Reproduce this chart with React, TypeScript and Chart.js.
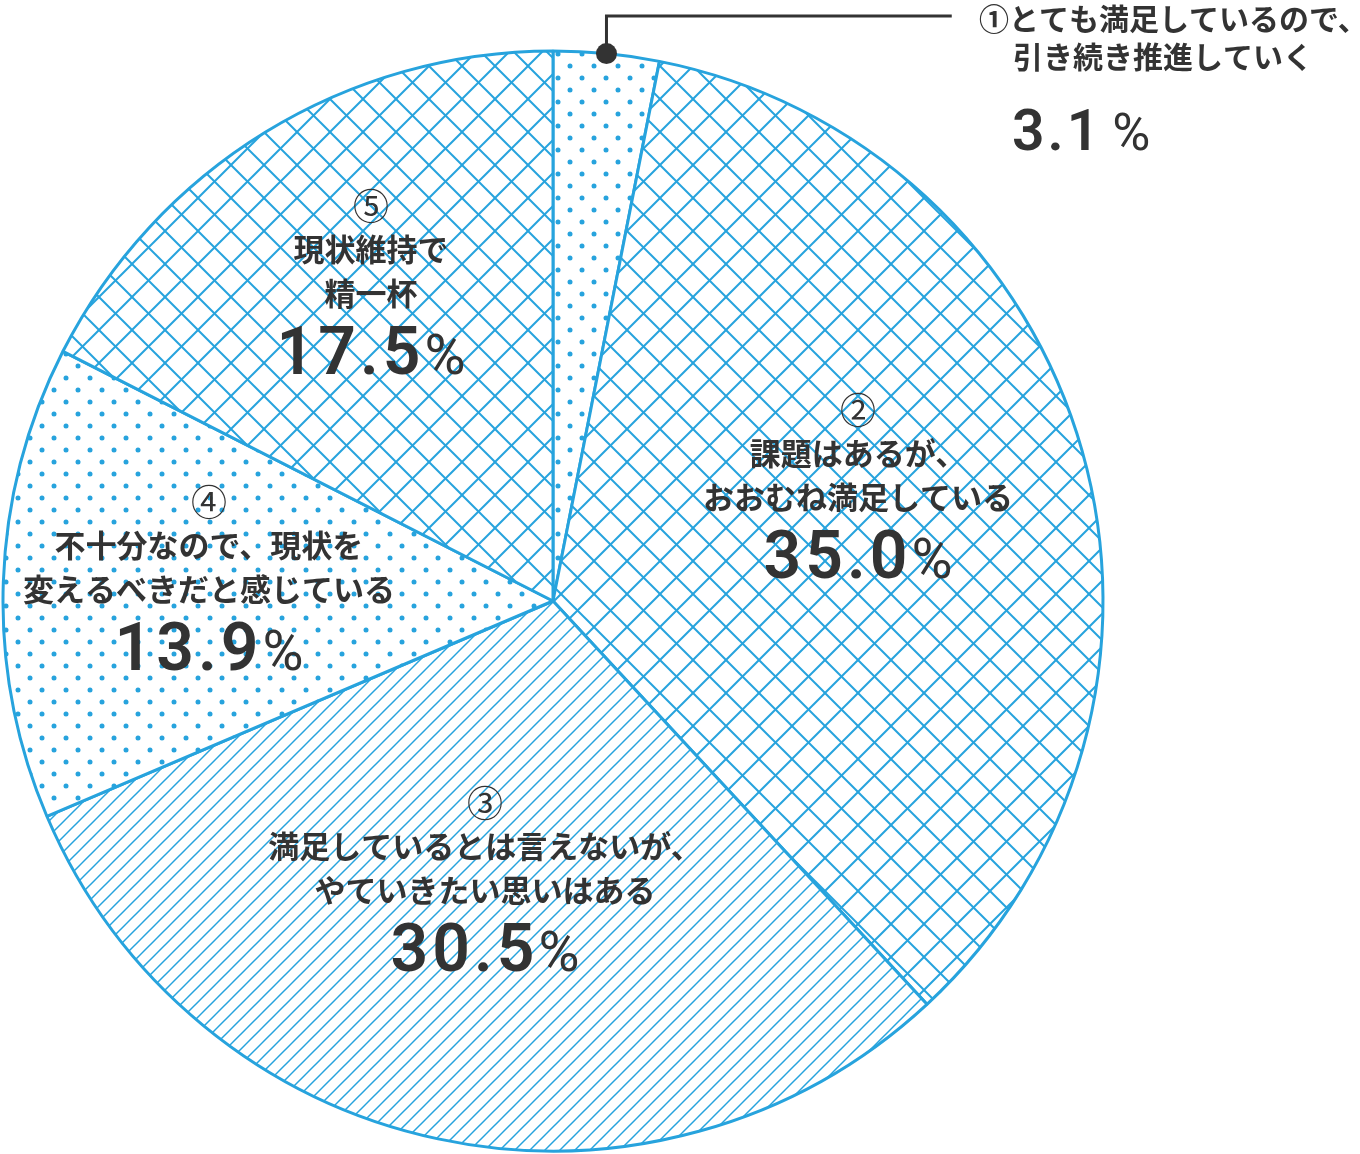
import React, { useEffect, useRef } from "react";
import { Chart, registerables } from "chart.js";

Chart.register(...registerables);

// ---- data ----
const circled = ["①", "②", "③", "④", "⑤"];
const categoryLines = [
  ["①とても満足しているので、", "引き続き推進していく"],
  ["課題はあるが、", "おおむね満足している"],
  ["満足しているとは言えないが、", "やていきたい思いはある"],
  ["不十分なので、現状を", "変えるべきだと感じている"],
  ["現状維持で", "精一杯"],
];
const values = [3.1, 35.0, 30.5, 13.9, 17.5];
const patternKinds = ["dots", "cross", "diag", "dots", "cross"];

// ---- layout / style ----
const BLUE = "#27a3dd";
const TEXT = "#333333";
const JP = `"Noto Sans CJK JP"`;
// label anchors as fraction of radius from the pie centre (circled-number centre)
const labelAnchors = [
  null,
  { fx: 0.5545, fy: -0.3473 },
  { fx: -0.1236, fy: 0.3673 },
  { fx: -0.6255, fy: -0.18 },
  { fx: -0.3309, fy: -0.7182 },
];

function makePattern(kind: string): CanvasPattern | string {
  const c = document.createElement("canvas");
  let s = 24;
  if (kind === "cross") s = 33;
  if (kind === "diag") s = 15;
  c.width = s;
  c.height = s;
  const g = c.getContext("2d")!;
  g.fillStyle = "#ffffff";
  g.fillRect(0, 0, s, s);
  g.strokeStyle = BLUE;
  g.fillStyle = BLUE;
  if (kind === "dots") {
    const r = 2.5;
    const pts = [
      [6, 6],
      [18, 18],
    ];
    pts.forEach(([px, py]) => {
      g.beginPath();
      g.arc(px, py, r, 0, Math.PI * 2);
      g.fill();
    });
  } else if (kind === "cross") {
    g.lineWidth = 2;
    for (let k = -1; k <= 1; k++) {
      g.beginPath();
      g.moveTo(k * s - 2, -2);
      g.lineTo(k * s + s + 2, s + 2);
      g.stroke();
      g.beginPath();
      g.moveTo(k * s + s + 2, -2);
      g.lineTo(k * s - 2, s + 2);
      g.stroke();
    }
  } else if (kind === "diag") {
    g.lineWidth = 1.5;
    for (let k = -1; k <= 1; k++) {
      g.beginPath();
      g.moveTo(k * s + s + 2, -2);
      g.lineTo(k * s - 2, s + 2);
      g.stroke();
    }
  }
  const p = g.createPattern(c, "repeat");
  return p || "#fff";
}

function drawPct(
  ctx: CanvasRenderingContext2D,
  value: number,
  x: number,
  baseline: number,
  size: number,
  align: "center" | "left",
  pRatio: number,
  gap: number
) {
  const digits = value.toFixed(1);
  const ls = `${Math.round(size * 0.06)}px`;
  const pSize = Math.round(size * pRatio);
  ctx.save();
  ctx.fillStyle = TEXT;
  ctx.textBaseline = "alphabetic";
  ctx.textAlign = "left";
  ctx.font = `600 ${size}px Roboto`;
  (ctx as any).letterSpacing = ls;
  const wd = ctx.measureText(digits).width + gap;
  ctx.font = `400 ${pSize}px Roboto`;
  (ctx as any).letterSpacing = "0px";
  const wp = ctx.measureText("%").width;
  const total = wd + wp;
  const x0 = align === "center" ? x - total / 2 : x;
  ctx.font = `600 ${size}px Roboto`;
  (ctx as any).letterSpacing = ls;
  ctx.fillText(digits, x0, baseline);
  (ctx as any).letterSpacing = "0px";
  ctx.font = `400 ${pSize}px Roboto`;
  ctx.fillText("%", x0 + wd, baseline);
  ctx.restore();
}

const labelPlugin = {
  id: "pieLabels",
  afterDatasetsDraw(chart: any) {
    const ctx: CanvasRenderingContext2D = chart.ctx;
    const meta = chart.getDatasetMeta(0);
    meta.data.forEach((arc: any, i: number) => {
      const { x, y, outerRadius, startAngle, endAngle } = arc.getProps(
        ["x", "y", "outerRadius", "startAngle", "endAngle"],
        true
      );
      const R = outerRadius;
      if (i === 0) {
        const mid = (startAngle + endAngle) / 2;
        const dx = x + R * Math.cos(mid);
        const dy = y + R * Math.sin(mid);
        const topY = y - R - 35;
        const endX = x + 0.725 * R;
        ctx.save();
        ctx.strokeStyle = TEXT;
        ctx.lineWidth = 3;
        ctx.beginPath();
        ctx.moveTo(dx, dy);
        ctx.lineTo(dx, topY);
        ctx.lineTo(endX, topY);
        ctx.stroke();
        ctx.fillStyle = TEXT;
        ctx.beginPath();
        ctx.arc(dx, dy, 10.5, 0, Math.PI * 2);
        ctx.fill();
        ctx.textAlign = "left";
        ctx.textBaseline = "middle";
        ctx.font = `bold 30px ${JP}`;
        ctx.fillText(categoryLines[0][0], x + 0.7745 * R, topY + 3);
        ctx.fillText(categoryLines[0][1], x + 0.8363 * R, topY + 41);
        ctx.restore();
        drawPct(ctx, values[0], x + 0.8345 * R, topY + 134, 57, "left", 0.92, 10);
        return;
      }
      const a = labelAnchors[i]!;
      const ax = x + a.fx * R;
      const ay = y + a.fy * R;
      ctx.save();
      ctx.fillStyle = TEXT;
      ctx.textAlign = "center";
      ctx.textBaseline = "middle";
      ctx.font = `400 36px ${JP}`;
      ctx.fillText(circled[i], ax, ay);
      ctx.font = `bold 31px ${JP}`;
      ctx.fillText(categoryLines[i][0], ax, ay + 43);
      ctx.fillText(categoryLines[i][1], ax, ay + 87);
      ctx.restore();
      drawPct(ctx, values[i], ax, ay + 168, 66, "center", 0.85, 0);
    });
  },
};

export default function App() {
  const ref = useRef<HTMLCanvasElement>(null);
  useEffect(() => {
    if (!ref.current) return;
    const bg = patternKinds.map((k) => makePattern(k));
    const chart = new Chart(ref.current, {
      type: "pie",
      data: {
        labels: categoryLines.map((l) => l.join("")),
        datasets: [
          {
            data: values,
            backgroundColor: bg as any,
            borderColor: BLUE,
            borderWidth: 3,
            radius: 550,
          } as any,
        ],
      },
      options: {
        responsive: false,
        animation: false,
        events: [],
        layout: { padding: { left: 0, right: 254, top: 48, bottom: 0 } },
        plugins: {
          legend: { display: false },
          tooltip: { enabled: false },
        },
      },
      plugins: [labelPlugin],
    });
    return () => chart.destroy();
  }, []);
  return (
    <div
      style={{
        position: "absolute",
        left: 0,
        top: 0,
        width: 1360,
        height: 1154,
        background: "#ffffff",
      }}
    >
      <canvas ref={ref} width={1360} height={1154} />
    </div>
  );
}
